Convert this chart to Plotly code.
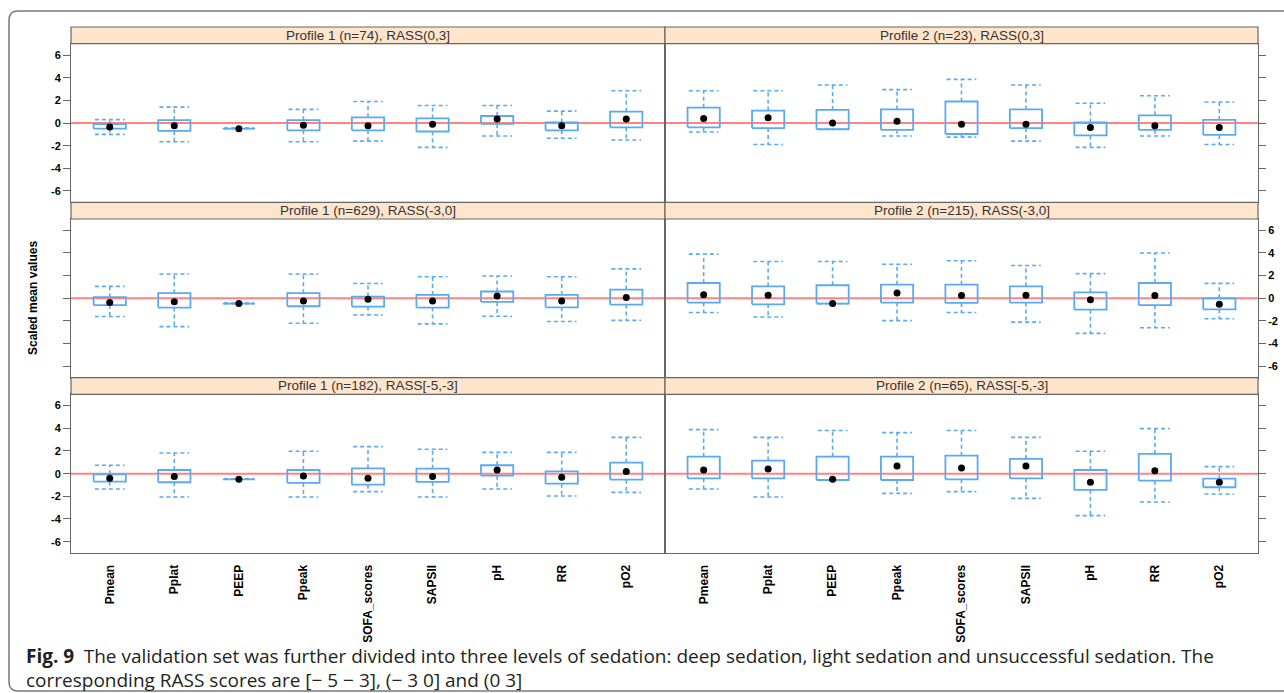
import plotly.graph_objects as go

# ---------------- data ----------------
categories = ["Pmean", "Pplat", "PEEP", "Ppeak", "SOFA_scores", "SAPSII", "pH", "RR", "pO2"]
y_tick_values = [-6, -4, -2, 0, 2, 4, 6]
y_tick_labels = ["-6", "-4", "-2", "0", "2", "4", "6"]

panel_titles = [
    "Profile 1 (n=74), RASS(0,3]", "Profile 2 (n=23), RASS(0,3]",
    "Profile 1 (n=629), RASS(-3,0]", "Profile 2 (n=215), RASS(-3,0]",
    "Profile 1 (n=182), RASS[-5,-3]", "Profile 2 (n=65), RASS[-5,-3]",
]

# Profile 1, RASS(0,3]
p1_r03_low = [-1.0, -1.65, -0.5, -1.65, -1.6, -2.15, -1.15, -1.35, -1.5]
p1_r03_q1 = [-0.5, -0.7, -0.5, -0.65, -0.65, -0.75, -0.08, -0.65, -0.38]
p1_r03_med = [-0.35, -0.25, -0.5, -0.2, -0.25, -0.1, 0.35, -0.25, 0.35]
p1_r03_q3 = [-0.1, 0.25, -0.45, 0.25, 0.5, 0.4, 0.62, 0.05, 1.0]
p1_r03_high = [0.3, 1.4, -0.45, 1.2, 1.9, 1.55, 1.55, 1.05, 2.85]

# Profile 2, RASS(0,3]
p2_r03_low = [-0.8, -1.9, -0.55, -1.15, -1.25, -1.6, -2.15, -1.15, -1.9]
p2_r03_q1 = [-0.38, -0.45, -0.55, -0.6, -0.97, -0.45, -1.1, -0.6, -1.05]
p2_r03_med = [0.4, 0.47, 0.0, 0.15, -0.1, -0.1, -0.4, -0.25, -0.4]
p2_r03_q3 = [1.35, 1.1, 1.15, 1.2, 1.9, 1.2, 0.05, 0.68, 0.27]
p2_r03_high = [2.85, 2.85, 3.35, 2.95, 3.85, 3.35, 1.75, 2.4, 1.85]

# Profile 1, RASS(-3,0]
p1_r30_low = [-1.6, -2.5, -0.47, -2.2, -1.47, -2.26, -1.58, -2.05, -1.95]
p1_r30_q1 = [-0.6, -0.82, -0.47, -0.7, -0.73, -0.82, -0.32, -0.8, -0.55]
p1_r30_med = [-0.38, -0.3, -0.47, -0.23, -0.08, -0.23, 0.2, -0.23, 0.08]
p1_r30_q3 = [0.1, 0.45, -0.42, 0.45, 0.15, 0.3, 0.6, 0.3, 0.77]
p1_r30_high = [1.05, 2.15, -0.42, 2.15, 1.3, 1.9, 1.97, 1.9, 2.6]

# Profile 2, RASS(-3,0]
p2_r30_low = [-1.25, -1.65, -0.47, -1.97, -1.26, -2.1, -3.1, -2.6, -1.8]
p2_r30_q1 = [-0.38, -0.53, -0.47, -0.38, -0.41, -0.38, -1.0, -0.6, -0.97]
p2_r30_med = [0.32, 0.27, -0.45, 0.47, 0.24, 0.27, -0.12, 0.24, -0.53]
p2_r30_q3 = [1.35, 1.05, 1.15, 1.2, 1.2, 1.05, 0.53, 1.35, 0.0]
p2_r30_high = [3.9, 3.25, 3.25, 3.0, 3.32, 2.9, 2.18, 4.0, 1.32]

# Profile 1, RASS[-5,-3]
p1_r53_low = [-1.35, -2.06, -0.5, -2.06, -1.59, -2.06, -1.35, -1.97, -1.65]
p1_r53_q1 = [-0.7, -0.76, -0.5, -0.82, -0.97, -0.73, -0.18, -0.88, -0.53]
p1_r53_med = [-0.41, -0.26, -0.5, -0.2, -0.41, -0.26, 0.32, -0.32, 0.2]
p1_r53_q3 = [-0.06, 0.32, -0.45, 0.32, 0.47, 0.44, 0.74, 0.2, 0.97]
p1_r53_high = [0.74, 1.82, -0.45, 1.97, 2.38, 2.15, 1.88, 1.88, 3.2]

# Profile 2, RASS[-5,-3]
p2_r53_low = [-1.35, -2.06, -0.56, -1.74, -1.59, -2.18, -3.7, -2.5, -1.79]
p2_r53_q1 = [-0.41, -0.41, -0.56, -0.56, -0.5, -0.41, -1.44, -0.62, -1.2]
p2_r53_med = [0.32, 0.41, -0.5, 0.68, 0.5, 0.68, -0.76, 0.26, -0.76]
p2_r53_q3 = [1.5, 1.15, 1.5, 1.5, 1.59, 1.3, 0.32, 1.74, -0.44]
p2_r53_high = [3.88, 3.2, 3.8, 3.62, 3.8, 3.2, 1.97, 3.97, 0.62]

caption_line1 = ("<b>Fig. 9</b>\u2002The validation set was further divided into three levels of sedation: "
                 "deep sedation, light sedation and unsuccessful sedation. The")
caption_line2 = "corresponding RASS scores are [\u2212 5 \u2212 3], (\u2212 3 0] and (0 3]"
y_title = "Scaled mean values"

panels = [
    (p1_r03_low, p1_r03_q1, p1_r03_med, p1_r03_q3, p1_r03_high),
    (p2_r03_low, p2_r03_q1, p2_r03_med, p2_r03_q3, p2_r03_high),
    (p1_r30_low, p1_r30_q1, p1_r30_med, p1_r30_q3, p1_r30_high),
    (p2_r30_low, p2_r30_q1, p2_r30_med, p2_r30_q3, p2_r30_high),
    (p1_r53_low, p1_r53_q1, p1_r53_med, p1_r53_q3, p1_r53_high),
    (p2_r53_low, p2_r53_q1, p2_r53_med, p2_r53_q3, p2_r53_high),
]

# ---------------- layout geometry ----------------
W, H = 1284, 693
def px(x):
    return x / W
def py(y):
    return 1 - y / H

col_x = [(71, 665), (665, 1258)]
row_y = [(43.7, 202.3), (219.0, 377.6), (394.3, 553.0)]
strip_h = 16.7

BOX_COL = "#5aa9f4"
BORDER = "#666666"
HALF_BOX = 0.25
HALF_CAP = 0.23

fig = go.Figure()
layout_axes = {}
shapes = []
annotations = []

tick_font = dict(family="Liberation Sans, Arial, sans-serif", size=11, color="black", weight="bold")

for idx, (low, q1, med, q3, high) in enumerate(panels):
    r, c = divmod(idx, 2)
    n = idx + 1
    xa = "x" if n == 1 else f"x{n}"
    ya = "y" if n == 1 else f"y{n}"
    xkey = "xaxis" if n == 1 else f"xaxis{n}"
    ykey = "yaxis" if n == 1 else f"yaxis{n}"
    pos = list(range(1, len(categories) + 1))

    wx, wy, cx, cy, bx, by = [], [], [], [], [], []
    for p, lo, a, b, hi in zip(pos, low, q1, q3, high):
        wx += [p, p, None, p, p, None]
        wy += [b, hi, None, a, lo, None]
        cx += [p - HALF_CAP, p + HALF_CAP, None, p - HALF_CAP, p + HALF_CAP, None]
        cy += [hi, hi, None, lo, lo, None]
        bx += [p - HALF_BOX, p + HALF_BOX, p + HALF_BOX, p - HALF_BOX, p - HALF_BOX, None]
        by += [a, a, b, b, a, None]

    fig.add_trace(go.Scatter(x=wx, y=wy, xaxis=xa, yaxis=ya, mode="lines",
                             line=dict(color=BOX_COL, width=1.6, dash="4px,3px"),
                             hoverinfo="skip", showlegend=False))
    fig.add_trace(go.Scatter(x=cx, y=cy, xaxis=xa, yaxis=ya, mode="lines",
                             line=dict(color=BOX_COL, width=1.6, dash="4px,3px"),
                             hoverinfo="skip", showlegend=False))
    fig.add_trace(go.Scatter(x=bx, y=by, xaxis=xa, yaxis=ya, mode="lines",
                             line=dict(color=BOX_COL, width=1.8),
                             hoverinfo="skip", showlegend=False))
    fig.add_trace(go.Scatter(x=pos, y=med, xaxis=xa, yaxis=ya, mode="markers",
                             marker=dict(color="black", size=7),
                             showlegend=False))

    x0, x1 = col_x[c]
    y0, y1 = row_y[r]
    bottom_row = (r == 2)
    layout_axes[xkey] = dict(
        domain=[px(x0), px(x1)], anchor=ya, range=[0.4, 9.6],
        tickmode="array", tickvals=pos, ticktext=categories,
        showticklabels=bottom_row, ticks="", tickangle=-90,
        ticklabelstandoff=6,
        tickfont=dict(family="Liberation Sans, Arial, sans-serif", size=12, color="black", weight="bold"),
        showgrid=False, zeroline=False, showline=True, mirror=True,
        linecolor=BORDER, linewidth=1, automargin=False,
    )
    show_y_labels = (c == 0 and r in (0, 2)) or (c == 1 and r == 1)
    layout_axes[ykey] = dict(
        domain=[py(y1), py(y0)], anchor=xa, range=[-7, 7],
        side="left" if c == 0 else "right",
        tickmode="array", tickvals=y_tick_values, ticktext=y_tick_labels,
        showticklabels=show_y_labels, ticks="outside", ticklen=7,
        tickcolor=BORDER, tickwidth=1, tickfont=tick_font,
        showgrid=False, zeroline=False, showline=True, mirror=True,
        linecolor=BORDER, linewidth=1, automargin=False,
    )

    # red reference line at 0
    shapes.append(dict(type="line", xref=f"{xa} domain", x0=0, x1=1,
                       yref=ya, y0=0, y1=0,
                       line=dict(color="rgba(255,90,90,0.75)", width=2), layer="below"))
    # strip
    shapes.append(dict(type="rect", xref="paper", yref="paper",
                       x0=px(x0), x1=px(x1), y0=py(y0), y1=py(y0 - strip_h),
                       fillcolor="#ffe5cc", line=dict(color=BORDER, width=1.2), layer="above"))
    annotations.append(dict(text=panel_titles[idx], xref="paper", yref="paper",
                            x=px((x0 + x1) / 2), y=py(y0 - strip_h / 2),
                            showarrow=False, xanchor="center", yanchor="middle",
                            font=dict(family="Liberation Sans Narrow, Arial Narrow, sans-serif",
                                      size=13.5, color="#333333")))

# outer rounded frame
fx0, fy0, fy1, rad = 9, 11, 691, 9
frame_path = (f"M {px(W + 5)} {py(fy0)} L {px(fx0 + rad)} {py(fy0)} "
              f"Q {px(fx0)} {py(fy0)} {px(fx0)} {py(fy0 + rad)} "
              f"L {px(fx0)} {py(fy1 - rad)} "
              f"Q {px(fx0)} {py(fy1)} {px(fx0 + rad)} {py(fy1)} "
              f"L {px(W + 5)} {py(fy1)}")
shapes.append(dict(type="path", xref="paper", yref="paper", path=frame_path,
                   line=dict(color="#7a7a7a", width=1.5)))

# y title
annotations.append(dict(text=f"<b>{y_title}</b>", xref="paper", yref="paper",
                        x=px(33), y=py(298), textangle=-90, showarrow=False,
                        xanchor="center", yanchor="middle",
                        font=dict(family="Liberation Sans, Arial, sans-serif", size=12, color="black")))

# caption
cap_font = dict(family="Open Sans, Noto Sans, sans-serif", size=19, color="#231f20")
annotations.append(dict(text=caption_line1, xref="paper", yref="paper", x=px(24), y=py(656),
                        xanchor="left", yanchor="middle", showarrow=False, font=cap_font))
annotations.append(dict(text=caption_line2, xref="paper", yref="paper", x=px(24), y=py(680),
                        xanchor="left", yanchor="middle", showarrow=False, font=cap_font))

fig.update_layout(
    width=W, height=H,
    margin=dict(l=0, r=0, t=0, b=0, autoexpand=False),
    paper_bgcolor="white", plot_bgcolor="white",
    showlegend=False, shapes=shapes, annotations=annotations,
    **layout_axes,
)

fig.write_html("out.html")
